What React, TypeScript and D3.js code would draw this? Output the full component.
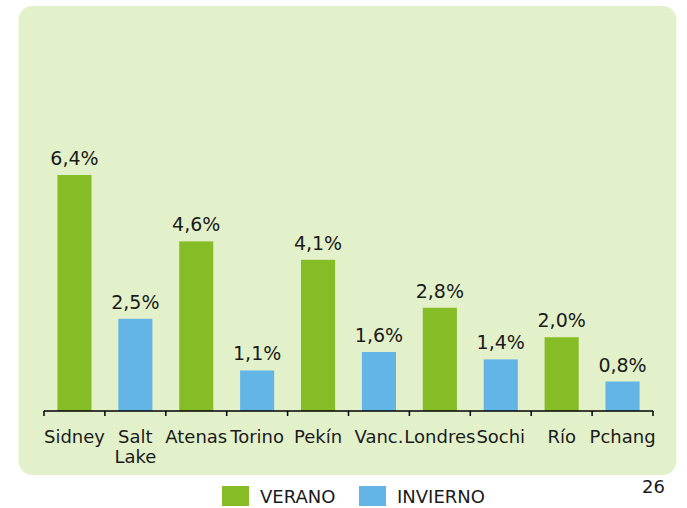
import React, { useEffect, useRef } from 'react'
import * as d3 from 'd3'

const cities = ['Sidney', 'Salt Lake', 'Atenas', 'Torino', 'Pekín', 'Vanc.', 'Londres', 'Sochi', 'Río', 'Pchang']
const season = ['VERANO', 'INVIERNO', 'VERANO', 'INVIERNO', 'VERANO', 'INVIERNO', 'VERANO', 'INVIERNO', 'VERANO', 'INVIERNO']
const values = [6.4, 2.5, 4.6, 1.1, 4.1, 1.6, 2.8, 1.4, 2.0, 0.8]
const legendItems = ['VERANO', 'INVIERNO']
const pageNumber = '26'

const W = 687
const H = 508
const GREEN = '#86bc25'
const BLUE = '#63b5e5'
const BG = '#e3f1ca'
const TXT = '#1a1a1a'
const FONT = 'Verdana, "DejaVu Sans", sans-serif'

export default function App() {
  const svgRef = useRef<SVGSVGElement>(null)

  useEffect(() => {
    if (!svgRef.current) return
    const svg = d3.select(svgRef.current)
    svg.selectAll('*').remove()

    // panel
    svg.append('rect')
      .attr('x', 18.5).attr('y', 6)
      .attr('width', 658).attr('height', 469)
      .attr('rx', 14)
      .attr('fill', BG)

    const axisY = 411
    const x = d3.scaleBand<string>().domain(cities).range([44, 653]).padding(0)
    const y = d3.scaleLinear().domain([0, 6.4]).range([axisY, 175])
    const color = d3.scaleOrdinal<string, string>().domain(legendItems).range([GREEN, BLUE])
    const barW = x.bandwidth() * 0.56

    const g = svg.append('g')

    // bars
    g.selectAll('rect.bar')
      .data(cities)
      .enter()
      .append('rect')
      .attr('class', 'bar')
      .attr('x', d => (x(d) ?? 0) + (x.bandwidth() - barW) / 2)
      .attr('y', (d, i) => y(values[i]))
      .attr('width', barW)
      .attr('height', (d, i) => axisY - y(values[i]))
      .attr('fill', (d, i) => color(season[i]))

    // value labels
    g.selectAll('text.val')
      .data(cities)
      .enter()
      .append('text')
      .attr('class', 'val')
      .attr('x', d => (x(d) ?? 0) + x.bandwidth() / 2)
      .attr('y', (d, i) => y(values[i]) - 10)
      .attr('text-anchor', 'middle')
      .style('font-family', FONT)
      .style('font-size', '19px')
      .attr('fill', TXT)
      .text((d, i) => d3.format('.1f')(values[i]).replace('.', ',') + '%')

    // axis line and ticks
    const axis = g.append('g').attr('stroke', '#000').attr('stroke-width', 1.5)
    axis.append('line')
      .attr('x1', 44).attr('x2', 653)
      .attr('y1', axisY).attr('y2', axisY)
    const edges = cities.map(c => x(c) ?? 0).concat([653])
    axis.selectAll('line.tick')
      .data(edges)
      .enter()
      .append('line')
      .attr('class', 'tick')
      .attr('x1', d => d).attr('x2', d => d)
      .attr('y1', axisY).attr('y2', axisY + 5)

    // category labels
    const labels = g.selectAll('text.cat')
      .data(cities)
      .enter()
      .append('text')
      .attr('class', 'cat')
      .attr('text-anchor', 'middle')
      .style('font-family', FONT)
      .style('font-size', '18px')
      .attr('fill', TXT)
      .attr('transform', d => `translate(${(x(d) ?? 0) + x.bandwidth() / 2},443)`)
    labels.each(function (d) {
      const words = d.split(' ')
      words.forEach((w, k) => {
        d3.select(this).append('tspan')
          .attr('x', 0)
          .attr('y', k * 20)
          .text(w)
      })
    })

    // legend
    const leg = svg.append('g')
    const legX = [222, 359]
    legendItems.forEach((s, i) => {
      leg.append('rect')
        .attr('x', legX[i]).attr('y', 486)
        .attr('width', 27).attr('height', 20)
        .attr('fill', color(s))
      leg.append('text')
        .attr('x', legX[i] + 38).attr('y', 503)
        .style('font-family', FONT)
        .style('font-size', '18px')
        .attr('fill', TXT)
        .text(s)
    })

    svg.append('text')
      .attr('x', 665).attr('y', 493)
      .attr('text-anchor', 'end')
      .style('font-family', FONT)
      .style('font-size', '18px')
      .attr('fill', TXT)
      .text(pageNumber)
  }, [])

  return (
    <svg
      ref={svgRef}
      width={W}
      height={H}
      style={{ position: 'fixed', left: 0, top: 0, display: 'block', background: '#fff' }}
    />
  )
}
